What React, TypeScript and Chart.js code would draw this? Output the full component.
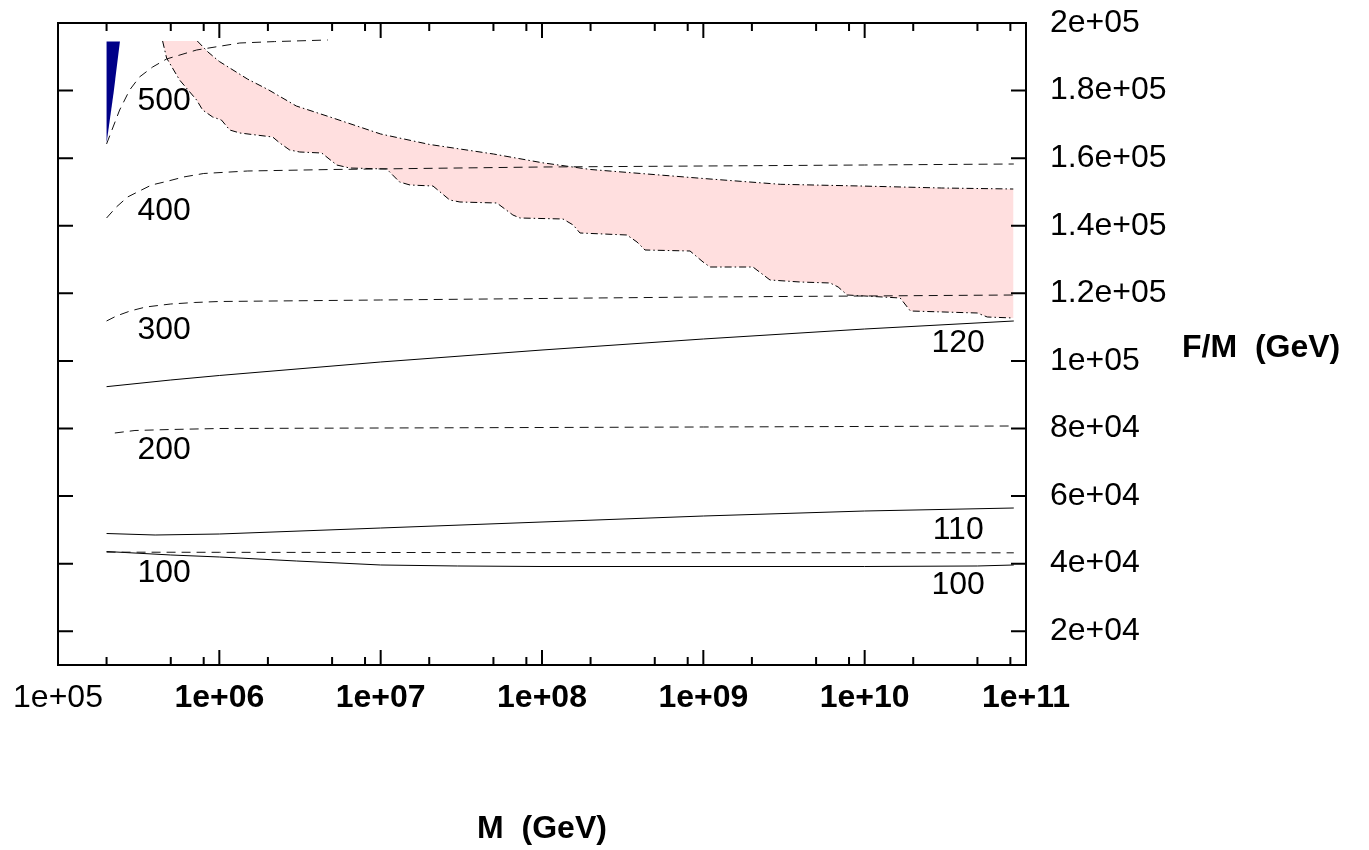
import React, { useEffect, useRef } from "react";
import { Chart, registerables } from "chart.js";

Chart.register(...registerables);

const FONT = '"Liberation Sans", Arial, Helvetica, sans-serif';

// ---- axes ----
const xMajorTicks = [1e5, 1e6, 1e7, 1e8, 1e9, 1e10, 1e11];
const xTickLabels = ["1e+05", "1e+06", "1e+07", "1e+08", "1e+09", "1e+10", "1e+11"];
const xMinorTicks = [
  2e5, 5e5, 8e5, 2e6, 5e6, 8e6, 2e7, 5e7, 8e7, 2e8, 5e8, 8e8, 2e9, 5e9, 8e9, 2e10, 5e10, 8e10,
];
const yTicks = [2e4, 4e4, 6e4, 8e4, 1e5, 1.2e5, 1.4e5, 1.6e5, 1.8e5, 2e5];
const yTickLabels = [
  "2e+04", "4e+04", "6e+04", "8e+04", "1e+05", "1.2e+05", "1.4e+05", "1.6e+05", "1.8e+05", "2e+05",
];

// ---- curves: [M (GeV), F/M (GeV)] ----
const dashed100 = [[2e5, 43400], [1e6, 43350], [1e8, 43250], [8.4e10, 43200]];
const solid100 = [
  [2e5, 43590], [5e5, 42555], [1e6, 41963], [3e6, 40780], [1e7, 39596], [3e7, 39300],
  [1e8, 39150], [1e10, 39150], [5e10, 39300], [8.4e10, 39596],
];
const solid110 = [
  [2e5, 48917], [4e5, 48473], [1e6, 48769], [1e7, 50545], [1e8, 52320], [1e9, 54096],
  [1e10, 55576], [8.4e10, 56464],
];
const solid120 = [
  [2e5, 92375], [5e5, 94346], [1e6, 95678], [1e7, 99673], [1e8, 103224], [1e9, 106480],
  [1e10, 109439], [8.4e10, 111807],
];
const dashed200 = [
  [2.25e5, 78661], [3e5, 79401], [5e5, 79697], [1e6, 79993], [1e7, 80141], [1e9, 80437],
  [8.4e10, 80733],
];
const dashed300 = [
  [2e5, 111807], [2.3e5, 113287], [2.8e5, 114767], [3.5e5, 115951], [5e5, 116839],
  [7e5, 117283], [1e6, 117579], [1e7, 118023], [1e8, 118467], [1e9, 118911],
  [1e10, 119207], [8.4e10, 119503],
];
const dashed400 = [
  [2e5, 142290], [2.3e5, 145545], [2.7e5, 148505], [3.2e5, 150280], [3.8e5, 152056],
  [4.7e5, 153092], [6e5, 154424], [8e5, 155460], [1.5e6, 156200], [5e6, 156644],
  [1e8, 157383], [1e9, 157679], [1e10, 157975], [8.4e10, 158271],
];
const dashed500 = [
  [2e5, 164200], [2.41e5, 174252], [2.78e5, 180171], [3.2e5, 184019], [3.86e5, 186978],
  [4.71e5, 189346], [7.23e5, 192009], [1.34e6, 194081], [2.2e6, 194500], [4.7e6, 194969],
];
const blueRegion = [[2e5, 194500], [2.42e5, 194500], [2.21e5, 179300], [2e5, 164500]];

const pinkUpper = [
  [7.3e5, 194673], [8.5e5, 191418], [1e6, 188606], [1.5e6, 183368], [2e6, 180320],
  [3e6, 175436], [5e6, 171973], [1e7, 167150], [2e7, 164072], [5e7, 161231],
  [1e8, 158655], [2e8, 156644], [5e8, 155134], [1e9, 153980], [3e9, 152263],
  [1e10, 151730], [3e10, 151168], [8.34e10, 150872],
];
const pinkLower = [
  [4.45e5, 194673], [4.71e5, 189642], [5.67e5, 183131], [7.23e5, 177212], [7.88e5, 174252],
  [9.09e5, 172181], [1.03e6, 171293], [1.16e6, 168334], [1.34e6, 167446], [2.14e6, 166262],
  [2.37e6, 164486], [2.73e6, 162415], [3.15e6, 161823], [4.31e6, 161527], [5.34e6, 157975],
  [6.43e6, 157087], [1.09e7, 156792], [1.31e7, 152944], [1.52e7, 152056], [2.11e7, 151760],
  [2.68e7, 147617], [3.1e7, 147025], [5.25e7, 146729], [6.6e7, 143178], [7.3e7, 142290],
  [1.35e8, 141994], [1.56e8, 140218], [1.72e8, 137851], [3.36e8, 137259], [3.88e8, 135187],
  [4.35e8, 132820], [8.27e8, 132524], [9.96e8, 129268], [1.1e9, 127788], [2.03e9, 127788],
  [2.59e9, 123941], [3.98e9, 123349], [6.11e9, 123053], [6.85e9, 121869], [7.79e9, 119502],
  [1.66e10, 118614], [1.92e10, 114767], [4.99e10, 114175], [5.75e10, 112992], [8.34e10, 112696],
];

// ---- curve labels ----
const curveLabels = ["500", "400", "300", "200", "100", "120", "110", "100"];
const curveLabelM = [4.55e5, 4.55e5, 4.55e5, 4.55e5, 4.55e5, 3.8e10, 3.8e10, 3.8e10];
const curveLabelF = [176768, 144361, 109143, 73629, 37227, 105296, 49953, 33675];

const X_TITLE = "M  (GeV)";
const Y_TITLE = "F/M  (GeV)";

const toXY = (arr: number[][]) => arr.map(([x, y]) => ({ x, y }));

const decorPlugin = {
  id: "decor",
  afterDatasetsDraw(chart: any) {
    const { ctx, chartArea: a, scales } = chart;
    const x = scales.x;
    const y = scales.y;
    ctx.save();
    // curve labels
    ctx.fillStyle = "#000";
    ctx.font = `32px ${FONT}`;
    ctx.textAlign = "center";
    ctx.textBaseline = "middle";
    curveLabels.forEach((t, i) => {
      ctx.fillText(t, x.getPixelForValue(curveLabelM[i]), y.getPixelForValue(curveLabelF[i]));
    });
    // frame
    ctx.strokeStyle = "#000";
    ctx.lineWidth = 2;
    ctx.strokeRect(a.left, a.top, a.right - a.left, a.bottom - a.top);
    // ticks (inward, all four sides)
    ctx.beginPath();
    const major = 15;
    const minor = 8;
    xMajorTicks.forEach((v) => {
      const p = x.getPixelForValue(v);
      ctx.moveTo(p, a.bottom);
      ctx.lineTo(p, a.bottom - major);
      ctx.moveTo(p, a.top);
      ctx.lineTo(p, a.top + major);
    });
    xMinorTicks.forEach((v) => {
      const p = x.getPixelForValue(v);
      ctx.moveTo(p, a.bottom);
      ctx.lineTo(p, a.bottom - minor);
      ctx.moveTo(p, a.top);
      ctx.lineTo(p, a.top + minor);
    });
    yTicks.forEach((v) => {
      const p = y.getPixelForValue(v);
      ctx.moveTo(a.left, p);
      ctx.lineTo(a.left + major, p);
      ctx.moveTo(a.right, p);
      ctx.lineTo(a.right - major, p);
    });
    ctx.stroke();
    // horizontal y-axis title
    ctx.font = `bold 32px ${FONT}`;
    ctx.textAlign = "left";
    ctx.textBaseline = "middle";
    ctx.fillText(Y_TITLE, a.right + 156, a.top + 325);
    ctx.restore();
  },
};

export default function App() {
  const ref = useRef<HTMLCanvasElement | null>(null);

  useEffect(() => {
    if (!ref.current) return;
    const dashed = [9, 6];
    const dashDot = [7, 3, 1.5, 3];
    const line = (data: number[][], dash: number[], color: string, order: number) => ({
      data: toXY(data),
      borderColor: color,
      borderWidth: 1,
      borderDash: dash,
      pointRadius: 0,
      fill: false,
      tension: 0,
      order,
    });
    const pinkPolygon = [[4.45e5, 194673], ...pinkUpper, ...pinkLower.slice().reverse()];

    const chart = new Chart(ref.current, {
      type: "line",
      data: {
        datasets: [
          line(dashed100, dashed, "#111", 1),
          line(solid100, [], "#000", 1),
          line(solid110, [], "#000", 1),
          line(solid120, [], "#000", 1),
          line(dashed200, dashed, "#111", 1),
          line(dashed300, dashed, "#111", 1),
          line(dashed400, dashed, "#111", 1),
          line(dashed500, dashed, "#111", 1),
          line(pinkUpper, dashDot, "#000", 1),
          line(pinkLower, dashDot, "#000", 1),
          {
            data: toXY(pinkPolygon),
            borderWidth: 0,
            borderColor: "rgba(0,0,0,0)",
            backgroundColor: "#ffdfdf",
            pointRadius: 0,
            fill: "shape",
            tension: 0,
            order: 5,
          },
          {
            data: toXY(blueRegion),
            borderWidth: 0,
            borderColor: "rgba(0,0,0,0)",
            backgroundColor: "#000088",
            pointRadius: 0,
            fill: "shape",
            tension: 0,
            order: 5,
          },
        ],
      },
      options: {
        responsive: false,
        animation: false,
        events: [],
        layout: { padding: { left: 58, top: 23, right: 0, bottom: 0 } },
        plugins: { legend: { display: false }, tooltip: { enabled: false }, title: { display: false } },
        scales: {
          x: {
            type: "logarithmic",
            position: "bottom",
            min: 1e5,
            max: 1e11,
            grid: { display: false },
            border: { display: false },
            afterBuildTicks: (s: any) => {
              s.ticks = xMajorTicks.map((value) => ({ value }));
            },
            afterFit: (s: any) => {
              s.height = 185;
              s.paddingLeft = 0;
              s.paddingRight = 0;
              s.paddingTop = 0;
              s.paddingBottom = 0;
            },
            ticks: {
              autoSkip: false,
              maxRotation: 0,
              minRotation: 0,
              padding: 6,
              color: "#000",
              font: (c: any) => ({
                family: FONT,
                size: 32,
                weight: c.index === 0 ? "normal" : "bold",
              }),
              callback: (_v: any, i: number) => xTickLabels[i],
            },
            title: {
              display: true,
              text: X_TITLE,
              color: "#000",
              font: { family: FONT, size: 32, weight: "bold" },
              padding: { top: 0, bottom: 2 },
            },
          },
          y: {
            type: "linear",
            position: "right",
            min: 1e4,
            max: 2e5,
            grid: { display: false },
            border: { display: false },
            afterBuildTicks: (s: any) => {
              s.ticks = yTicks.map((value) => ({ value }));
            },
            afterFit: (s: any) => {
              s.width = 343;
              s.paddingLeft = 0;
              s.paddingRight = 0;
              s.paddingTop = 0;
              s.paddingBottom = 0;
            },
            ticks: {
              autoSkip: false,
              padding: 16,
              color: "#000",
              font: { family: FONT, size: 32 },
              callback: (_v: any, i: number) => yTickLabels[i],
            },
            title: { display: false },
          },
        },
      },
      plugins: [decorPlugin],
    } as any);
    return () => chart.destroy();
  }, []);

  return (
    <div style={{ position: "absolute", left: 0, top: 0, width: 1369, height: 850, background: "#fff" }}>
      <canvas ref={ref} width={1369} height={850} style={{ display: "block" }} />
    </div>
  );
}
